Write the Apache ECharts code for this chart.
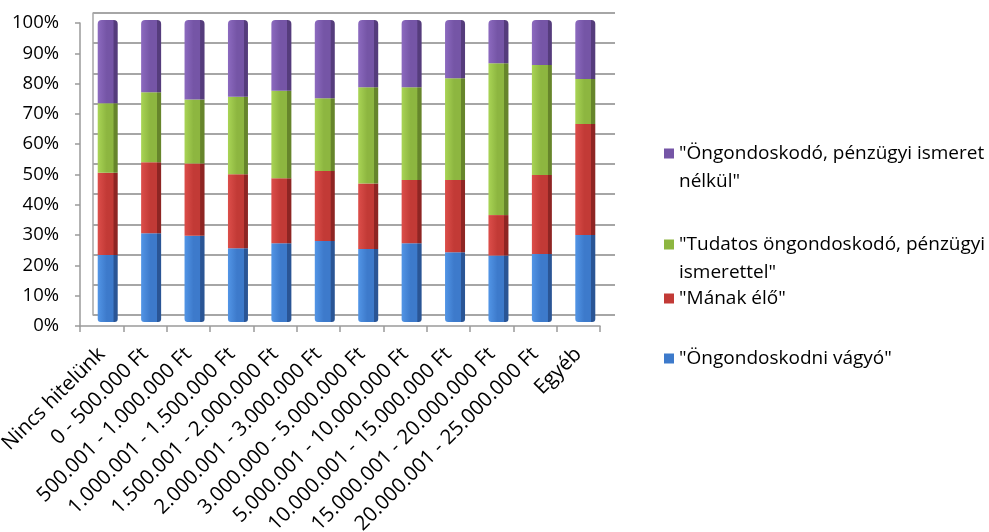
<!DOCTYPE html>
<html>
<head>
<meta charset="utf-8">
<script src="https://cdn.jsdelivr.net/npm/echarts@6/dist/echarts.min.js"></script>
<style>html,body{margin:0;padding:0;background:#fff}#c{width:989px;height:532px}</style>
</head>
<body>
<div id="c"></div>
<script>
var categories = ['Nincs hitelünk','0 - 500.000 Ft','500.001 - 1.000.000 Ft','1.000.001 - 1.500.000 Ft','1.500.001 - 2.000.000 Ft','2.000.001 - 3.000.000 Ft','3.000.000 - 5.000.000 Ft','5.000.001 - 10.000.000 Ft','10.000.001 - 15.000.000 Ft','15.000.001 - 20.000.000 Ft','20.000.001 - 25.000.000 Ft','Egyéb'];
var seriesNames = ['"Öngondoskodni vágyó"','"Mának élő"','"Tudatos öngondoskodó, pénzügyi ismerettel"','"Öngondoskodó, pénzügyi ismeret nélkül"'];
var legendLabels = ['"Öngondoskodni vágyó"','"Mának élő"','"Tudatos öngondoskodó, pénzügyi\nismerettel"','"Öngondoskodó, pénzügyi ismeret\nnélkül"'];
var blueVals   = [22.2, 29.4, 28.6, 24.4, 26.1, 26.8, 24.2, 26.1, 23.1, 22.0, 22.5, 28.8];
var redVals    = [27.2, 23.5, 23.9, 24.5, 21.5, 23.2, 21.7, 20.9, 23.9, 13.4, 26.2, 36.8];
var greenVals  = [23.0, 23.2, 21.2, 25.7, 29.0, 24.1, 31.8, 30.7, 33.7, 50.3, 36.4, 14.9];
var purpleVals = [27.6, 23.9, 26.3, 25.4, 23.4, 25.9, 22.3, 22.3, 19.3, 14.3, 14.9, 19.5];
var yTicks = [0,10,20,30,40,50,60,70,80,90,100];

var FONT = 'Open Sans';
function grad(light, mid, dark) {
  return new echarts.graphic.LinearGradient(0, 0, 1, 0, [
    {offset: 0, color: light}, {offset: 0.45, color: mid}, {offset: 0.78, color: mid},
    {offset: 0.8, color: dark}, {offset: 1, color: dark}
  ]);
}
var colors = [
  grad('#5295e6', '#3d7acb', '#2a5595'),
  grad('#dc4e4a', '#c23a36', '#8e2523'),
  grad('#a9d455', '#8db640', '#66852b'),
  grad('#8c6abf', '#7555a6', '#553c7c')
];
var legendColors = ['#3d7acb', '#c23a36', '#8db640', '#7555a6'];
var vals = [blueVals, redVals, greenVals, purpleVals];

var series = vals.map(function (v, i) {
  return {
    name: seriesNames[i], type: 'bar', stack: 'all', data: v,
    xAxisIndex: 0, yAxisIndex: 0, barWidth: 20,
    itemStyle: {color: colors[i], borderRadius: i === 3 ? [4, 4, 0, 0] : (i === 0 ? [0, 0, 3, 3] : 0)},
    emphasis: {disabled: true}, z: 3
  };
});
series.push({type: 'bar', data: [], xAxisIndex: 1, yAxisIndex: 1, silent: true});
series.push({type: 'bar', data: [], xAxisIndex: 2, yAxisIndex: 2, silent: true});

var LH = 28;
var legendTops = [344.5, 284.5, 230.5, 139.5];
var legends = seriesNames.map(function (n, i) {
  var two = legendLabels[i].indexOf('\n') >= 0;
  var h = two ? 10 + LH : 10;
  return {
    data: [{name: n, itemStyle: {color: legendColors[i]}}], left: 664, top: legendTops[i], orient: 'vertical', padding: 0,
    icon: two ? 'path://M0,0L10,0L10,10L0,10Z M0,' + h + 'L10,' + h + 'Z' : 'rect',
    itemWidth: 10, itemHeight: h, selectedMode: false,
    formatter: function () { return legendLabels[i]; },
    textStyle: {fontFamily: FONT, fontSize: 19, color: '#000', lineHeight: LH}
  };
});

var option = {
  animation: false,
  backgroundColor: '#fff',
  legend: legends,
  grid: [
    {left: 86, top: 20, width: 521, height: 302, outerBoundsMode: 'none'},
    {left: 93, top: 13, width: 522, height: 302, outerBoundsMode: 'none'},
    {left: 80, top: 23, width: 520, height: 303, outerBoundsMode: 'none'}
  ],
  xAxis: [
    {type: 'category', gridIndex: 0, data: categories, show: false},
    {type: 'category', gridIndex: 1, data: categories, show: false},
    {type: 'category', gridIndex: 2, data: categories,
     axisLine: {lineStyle: {color: '#9a9a9a', width: 1.5}},
     axisTick: {show: true, length: 6, lineStyle: {color: '#9a9a9a', width: 1.5}},
     axisLabel: {rotate: 45, margin: 25, fontFamily: FONT, fontSize: 20.5, color: '#000', interval: 0}}
  ],
  yAxis: [
    {type: 'value', gridIndex: 0, min: 0, max: 100, interval: 10, show: false},
    {type: 'value', gridIndex: 1, min: 0, max: 100, interval: 10,
     axisLine: {show: true, lineStyle: {color: '#a6a6a6', width: 1.5}},
     axisTick: {show: false}, axisLabel: {show: false},
     splitLine: {show: true, lineStyle: {color: '#a6a6a6', width: 2}}},
    {type: 'value', gridIndex: 2, min: 0, max: 100, interval: 10,
     axisLine: {show: true, lineStyle: {color: '#9a9a9a', width: 1.5}},
     axisTick: {show: true, length: 5, lineStyle: {color: '#9a9a9a', width: 1.5}},
     splitLine: {show: false},
     axisLabel: {margin: 21, fontFamily: FONT, fontSize: 18.5, color: '#000',
       formatter: function (v) { return yTicks.indexOf(v) >= 0 ? v + '%' : ''; }}}
  ],
  series: series
};
echarts.init(document.getElementById('c'), null, {renderer: 'canvas'}).setOption(option);
</script>
</body>
</html>
